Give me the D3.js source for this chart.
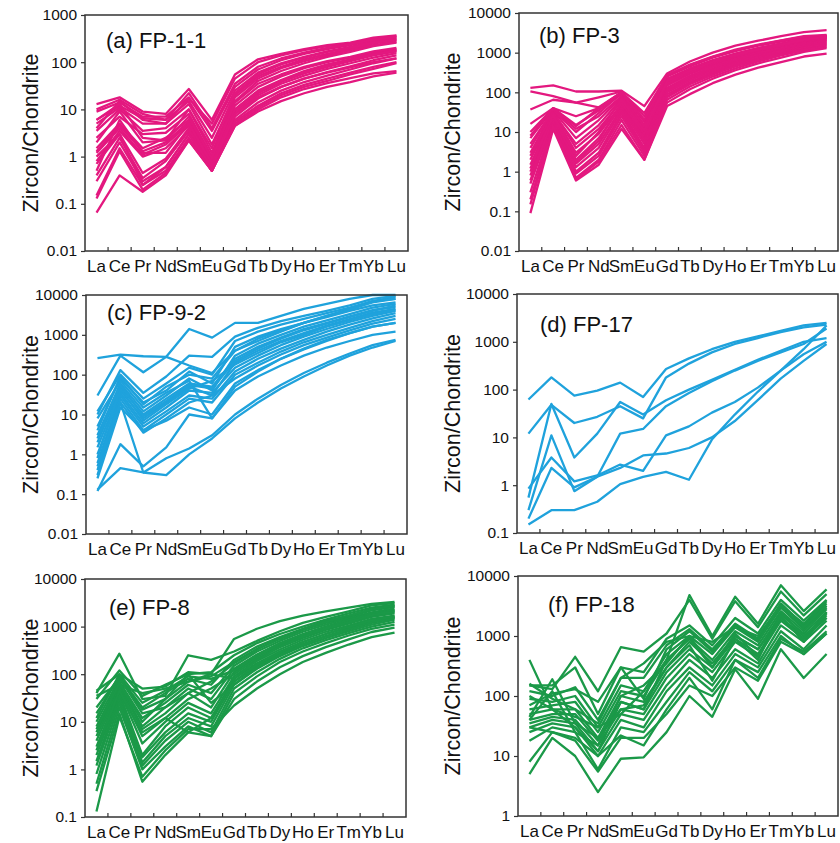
<!DOCTYPE html>
<html><head><meta charset="utf-8">
<script src="https://cdn.jsdelivr.net/npm/d3@7"></script>
<style>
body{margin:0;background:#fff;}
svg{display:block;font-family:"Liberation Sans",Arial,sans-serif;}
</style></head>
<body><svg id="c" width="840" height="843"></svg>
<script>
const categories = ["La","Ce","Pr","Nd","Sm","Eu","Gd","Tb","Dy","Ho","Er","Tm","Yb","Lu"];

const fp1_1 = [
 [13,18,9,8,27,6,55,115,150,190,230,260,330,370],
 [9,14,7,7,18,3.5,30,70,110,150,190,230,290,330],
 [6,12,6.5,6,15,2.5,25,60,95,130,170,210,270,310],
 [5,11,5,5,13,1.8,20,50,80,115,150,190,250,290],
 [3.5,10,3.5,4,10,1.2,18,45,75,105,140,180,230,270],
 [2.5,7,3,3.2,8,1,15,40,65,95,130,165,220,260],
 [1.5,5,1.5,2.5,6,0.8,12,30,50,75,100,125,160,190],
 [1.3,4.5,1.3,2,5.5,0.7,10,25,42,65,90,115,150,180],
 [1.2,4,1.1,1.8,5,0.6,9,22,38,58,80,105,140,170],
 [0.8,3.5,1,1.5,4.5,0.6,8,20,35,52,72,95,125,155],
 [0.7,3,0.45,0.9,4,0.55,7,17,30,45,62,82,110,140],
 [0.4,2.5,0.35,0.8,3.5,0.5,6,14,25,38,52,70,95,120],
 [0.3,2,0.3,0.6,3,0.5,5.5,12,22,33,45,60,80,100],
 [0.15,1.5,0.25,0.5,2.5,0.5,5,11,20,30,40,55,72,95],
 [0.13,1.3,0.2,0.45,2.2,0.5,4.5,10,18,27,36,46,58,65],
 [0.065,0.4,0.18,0.4,2.2,0.5,4.5,9,15,22,30,38,50,60],
 [4,15,6,5,17,5,45,100,140,180,220,250,310,360],
 [10,16,8,6,22,4,35,80,120,160,200,240,300,340],
 [2,9,2,2.2,7,0.9,14,35,55,80,105,130,170,200],
 [0.5,6,1.2,1.2,5,0.7,10,24,40,60,85,110,145,175],
 [1,3,0.25,0.6,3,0.6,8,18,30,45,60,78,100,120],
 [6,13,2.5,2.2,10,1.5,22,55,90,125,165,200,260,300]
];

const fp3 = [
 [130,150,105,105,110,45,300,600,1000,1500,2000,2600,3300,3700],
 [105,80,55,42,100,25,250,450,750,1100,1500,1900,2400,2700],
 [37,65,55,75,105,20,220,400,650,950,1300,1700,2200,2600],
 [16,40,25,40,100,18,200,370,600,900,1250,1650,2100,2500],
 [10,40,15,35,90,15,180,340,560,850,1200,1550,2000,2400],
 [7,38,12,25,80,12,160,310,520,800,1100,1450,1900,2300],
 [5,35,7,20,75,10,150,290,480,750,1050,1400,1800,2200],
 [3,33,4,12,60,8,130,260,440,700,980,1300,1700,2100],
 [2,30,3,9,50,7,120,240,400,650,900,1200,1600,2000],
 [1.5,28,2,7,45,6,110,220,370,600,850,1150,1500,1900],
 [1,25,1.6,5,40,5,100,200,350,560,800,1100,1450,1800],
 [0.8,22,1.3,4,35,4,90,180,320,520,750,1000,1350,1700],
 [0.5,20,1,3,30,3.5,80,170,300,480,700,950,1300,1600],
 [0.3,18,0.9,2.5,25,3,75,160,280,450,650,900,1200,1500],
 [0.2,15,0.7,2,20,2.5,65,140,250,400,600,850,1150,1400],
 [0.09,12,0.6,1.5,12,2,45,90,170,280,420,580,800,950],
 [0.15,14,0.65,1.8,15,2,55,120,220,360,540,750,1050,1300],
 [4,36,10,30,95,20,260,480,780,1150,1550,2000,2500,2700],
 [8,40,14,40,100,30,270,500,800,1200,1600,2050,2600,2800],
 [2.5,30,5,15,70,14,200,380,620,930,1300,1700,2200,2600],
 [0.6,24,1.8,6,55,9,170,320,540,820,1150,1500,2000,2400],
 [1.2,27,2.5,10,65,11,190,350,580,880,1200,1600,2100,2500]
];

const fp9_2 = [
 [260,320,290,280,170,110,400,700,1200,2000,3000,4500,7000,9000],
 [30,300,115,280,1400,850,2000,2000,3000,4500,6000,8000,10000,10000],
 [10,130,35,90,300,280,900,1500,2200,3000,4000,5500,8000,9500],
 [12,100,25,60,150,100,700,1200,1800,2500,3500,4800,7000,8000],
 [5,80,20,40,120,60,500,900,1400,2000,2800,4000,5500,6500],
 [3,60,12,30,80,40,300,600,1000,1600,2300,3300,4800,6000],
 [2,50,10,25,60,50,250,500,850,1400,2000,2900,4200,5000],
 [1.5,40,8,20,50,30,200,400,700,1100,1700,2500,3600,4500],
 [1,35,6,15,40,35,150,300,550,900,1400,2100,3000,4000],
 [0.6,30,5,12,30,25,120,250,450,750,1200,1800,2600,3500],
 [0.4,25,4,10,25,20,100,200,380,650,1000,1500,2200,3000],
 [0.3,20,3.5,8,20,30,80,170,320,550,850,1300,1900,2500],
 [0.25,15,4,7,15,10,60,130,250,430,700,1100,1600,2000],
 [0.12,1.8,0.5,1.5,10,8,40,90,170,300,480,700,1000,1200],
 [0.13,0.45,0.35,0.3,1,2.5,8,20,45,90,170,300,480,700],
 [0.5,20,0.35,0.8,1.4,3,10,25,55,110,200,340,550,750],
 [4,90,18,50,100,80,400,800,1300,2000,3000,4300,6500,8000],
 [8,70,15,35,70,8,50,120,250,450,750,1100,1600,2000],
 [0.8,45,7,18,45,70,180,350,650,1000,1600,2300,3300,4200],
 [2.5,55,9,22,55,45,220,450,800,1300,1900,2800,4000,5500]
];

const fp17 = [
 [62,180,75,95,140,70,270,450,700,1000,1300,1700,2200,2500],
 [12,48,20,27,45,25,180,350,600,900,1200,1600,2000,2300],
 [0.55,50,3.8,12,55,30,60,100,160,260,420,650,1000,1200],
 [0.3,11,0.75,1.5,12,15,45,85,150,250,400,600,900,1900],
 [0.85,3.8,1.2,1.6,2.7,2,11,17,33,55,110,250,550,1000],
 [0.2,2.3,0.9,1.5,2.3,4.2,4.6,6,10,22,60,170,400,900],
 [0.15,0.3,0.3,0.45,1.05,1.5,1.9,1.3,9,30,90,250,700,2200]
];

const fp8 = [
 [45,100,50,55,110,100,550,900,1300,1700,2100,2500,3000,3300],
 [40,270,30,35,250,200,300,500,800,1200,1600,2100,2800,3100],
 [30,120,35,60,100,110,250,450,700,1000,1400,1900,2500,2900],
 [15,90,20,40,80,60,200,380,600,900,1300,1700,2300,2700],
 [10,80,18,30,70,90,180,340,550,850,1200,1600,2200,2600],
 [8,70,12,25,60,40,150,300,500,780,1100,1500,2000,2400],
 [6,60,8,20,50,30,130,260,450,700,1000,1400,1900,2200],
 [5,55,7,15,40,20,110,230,400,630,900,1250,1700,2000],
 [4,50,5,12,30,50,100,210,370,580,850,1150,1600,1900],
 [3,45,3.5,10,25,15,90,190,330,530,780,1050,1450,1700],
 [2,40,2,8,20,12,80,170,300,480,700,950,1300,1600],
 [1.5,35,1.8,6,15,10,70,150,270,430,630,870,1200,1500],
 [1.2,30,1.4,5,12,8,60,130,240,390,570,800,1100,1400],
 [0.8,25,1.2,4,10,6,50,110,210,350,520,730,1000,1250],
 [0.5,20,1,3,8,5,40,90,180,300,450,650,900,1100],
 [0.35,15,0.55,2,6,5,30,70,140,240,370,540,770,950],
 [0.13,13,0.7,2.5,7,7,22,50,100,180,280,420,600,750],
 [12,100,25,45,90,80,120,250,430,680,980,1350,1850,2200],
 [35,60,40,50,70,100,80,200,380,620,900,1250,1750,2100],
 [7,65,10,30,100,25,60,140,260,420,620,880,1250,1500],
 [2.5,45,6,12,6,12,70,160,290,470,700,980,1350,1650],
 [20,85,15,20,40,70,170,330,560,870,1250,1700,2300,2800]
];

const fp18 = [
 [400,60,30,12,80,60,400,4800,1000,4500,1600,7000,2600,6000],
 [150,130,450,120,650,550,1100,4000,900,3800,1400,5500,2200,5000],
 [150,150,300,50,300,250,900,1500,700,2000,1100,4000,1800,4000],
 [120,100,140,40,200,200,700,1300,600,1600,900,3500,1500,3500],
 [90,80,100,30,150,120,500,1000,500,1400,800,3000,1300,3000],
 [60,70,80,25,120,100,400,900,400,1200,700,2600,1200,2800],
 [50,60,60,20,100,80,300,800,350,1000,600,2300,1100,2500],
 [40,50,50,18,80,60,250,600,300,900,500,2000,1000,2200],
 [35,45,40,15,60,50,200,500,250,800,450,1800,900,2000],
 [30,40,35,12,50,40,150,400,200,600,350,1500,800,1800],
 [25,35,30,10,40,30,120,300,150,500,300,1200,600,1500],
 [18,30,25,6,30,25,80,250,120,400,250,1000,500,1100],
 [8,25,18,5.5,20,20,50,150,100,300,180,800,500,1100],
 [5,20,10,2.5,9,9.5,25,100,45,280,90,600,200,500],
 [45,190,35,20,60,70,300,700,180,900,400,2500,1000,2000],
 [70,110,130,80,300,90,600,1200,550,1500,850,3000,1400,3200],
 [40,120,25,15,100,150,350,1000,300,1000,600,2000,900,2500],
 [30,25,20,10,22,15,60,200,60,400,200,900,550,1200],
 [100,60,45,30,50,120,400,900,300,1100,450,2200,800,2400],
 [160,90,60,35,200,350,800,1000,800,1400,1000,3200,1600,3800]
];

const panelTitles = ["(a) FP-1-1","(b) FP-3","(c) FP-9-2","(d) FP-17","(e) FP-8","(f) FP-18"];
const yTicksA = [0.01,0.1,1,10,100,1000];
const yTicksB = [0.01,0.1,1,10,100,1000,10000];
const yTicksD = [0.1,1,10,100,1000,10000];
const yTicksF = [1,10,100,1000,10000];
const yTitle = "Zircon/Chondrite";

const magenta = "#e3187f", blue = "#1fa2dc", green = "#1b9948";

const panels = [
 {data:fp1_1, title:panelTitles[0], ticks:yTicksA, box:[85,15,408,251], color:magenta, tx:106, ty:48, ytx:30},
 {data:fp3,   title:panelTitles[1], ticks:yTicksB, box:[519,13,838,251], color:magenta, tx:539, ty:43, ytx:452},
 {data:fp9_2, title:panelTitles[2], ticks:yTicksB, box:[86,295,407,534], color:blue, tx:107, ty:320, ytx:30},
 {data:fp17,  title:panelTitles[3], ticks:yTicksD, box:[517,294,838,533], color:blue, tx:540, ty:332, ytx:452},
 {data:fp8,   title:panelTitles[4], ticks:yTicksD, box:[85,579,406,817], color:green, tx:109, ty:615, ytx:30},
 {data:fp18,  title:panelTitles[5], ticks:yTicksF, box:[518,576,838,816], color:green, tx:548, ty:612, ytx:452}
];

const svg = d3.select("#c");

panels.forEach(p => {
  const [l,t,r,b] = p.box;
  const g = svg.append("g");
  const x = d3.scaleBand().domain(categories).range([l,r]);
  const cx = c => x(c) + x.bandwidth()/2;
  const y = d3.scaleLog().domain([p.ticks[0], p.ticks[p.ticks.length-1]]).range([b,t]);

  const line = d3.line().x((d,i)=>cx(categories[i])).y(d=>y(d));
  g.append("g").selectAll("path").data(p.data).join("path")
    .attr("d", line).attr("fill","none").attr("stroke",p.color)
    .attr("stroke-width",2.3).attr("stroke-linejoin","round");

  // frame
  g.append("rect").attr("x",l).attr("y",t).attr("width",r-l).attr("height",b-t)
    .attr("fill","none").attr("stroke","#333").attr("stroke-width",1.5);

  // y axis
  const ya = d3.axisLeft(y).tickValues(p.ticks).tickFormat(d=>String(d)).tickSize(4).tickSizeOuter(0);
  const yg = g.append("g").attr("transform",`translate(${l},0)`).call(ya);
  yg.select(".domain").remove();
  yg.selectAll("line").attr("stroke","#333").attr("stroke-width",1.2);
  yg.selectAll("text").attr("font-size",15.5).attr("fill","#111").attr("font-family","Liberation Sans, Arial, sans-serif").attr("dx",-1);

  // x axis: labels at category centres, ticks between
  const xa = d3.axisBottom(x).tickSize(0).tickSizeOuter(0);
  const xg = g.append("g").attr("transform",`translate(0,${b})`).call(xa);
  xg.select(".domain").remove();
  xg.selectAll("text").attr("font-size",17).attr("fill","#111").attr("dy","1.05em").attr("font-family","Liberation Sans, Arial, sans-serif");
  g.append("g").selectAll("line").data(categories.slice(1)).join("line")
    .attr("x1",c=>x(c)).attr("x2",c=>x(c)).attr("y1",b).attr("y2",b-4)
    .attr("stroke","#333").attr("stroke-width",1.2);

  // panel title
  g.append("text").attr("x",p.tx).attr("y",p.ty).attr("font-size",22).attr("fill","#111").text(p.title);

  // y title
  g.append("text").attr("transform",`translate(${p.ytx},${(t+b)/2}) rotate(-90)`)
    .attr("text-anchor","middle").attr("dy","0.35em").attr("font-size",21.5).attr("fill","#111").text(yTitle);
});
</script></body></html>
